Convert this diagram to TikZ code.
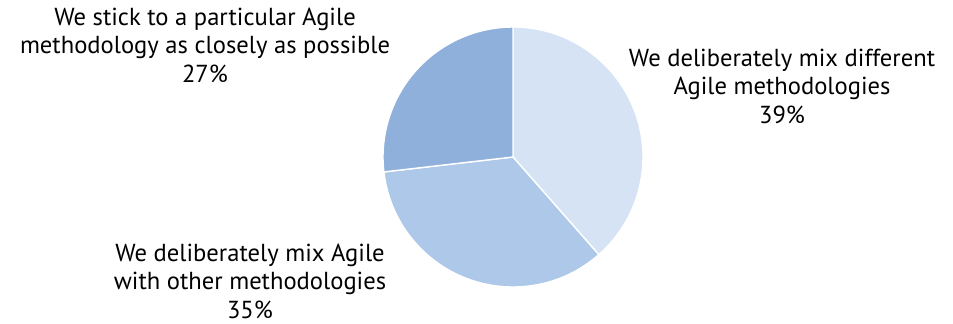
\documentclass[tikz,border=0pt]{standalone}
\usepackage{fontspec}
\setmainfont{PT Sans}
\usepackage{tikz}
\definecolor{sliceA}{HTML}{D5E3F4}
\definecolor{sliceB}{HTML}{ADC8E8}
\definecolor{sliceC}{HTML}{8FB0DB}
\begin{document}
\begin{tikzpicture}
[x=0.02cm,y=0.02cm,
slice/.style={draw=white,line width=0.8pt},
lbl/.style={align=center,inner sep=1pt,font=\fontsize{14}{16.2}\selectfont}]
\useasboundingbox (0,0) rectangle (953,324);
\coordinate (o) at (513,167);
\foreach \a/\b/\c in {90/-48.7/sliceA,-48.7/-173.4/sliceB,-173.4/-270/sliceC}
  \fill[slice,fill=\c] (o) -- ++(\a:130) arc[start angle=\a,end angle=\b,radius=130] -- cycle;
\node[lbl] (mixdiff) at (782,238) {We deliberately mix different\\Agile methodologies\\39\%};
\node[lbl] (mixother) at (250,43) {We deliberately mix Agile\\with other methodologies\\35\%};
\node[lbl] (stick) at (205,279) {We stick to a particular Agile\\methodology as closely as possible\\27\%};
\end{tikzpicture}
\end{document}
